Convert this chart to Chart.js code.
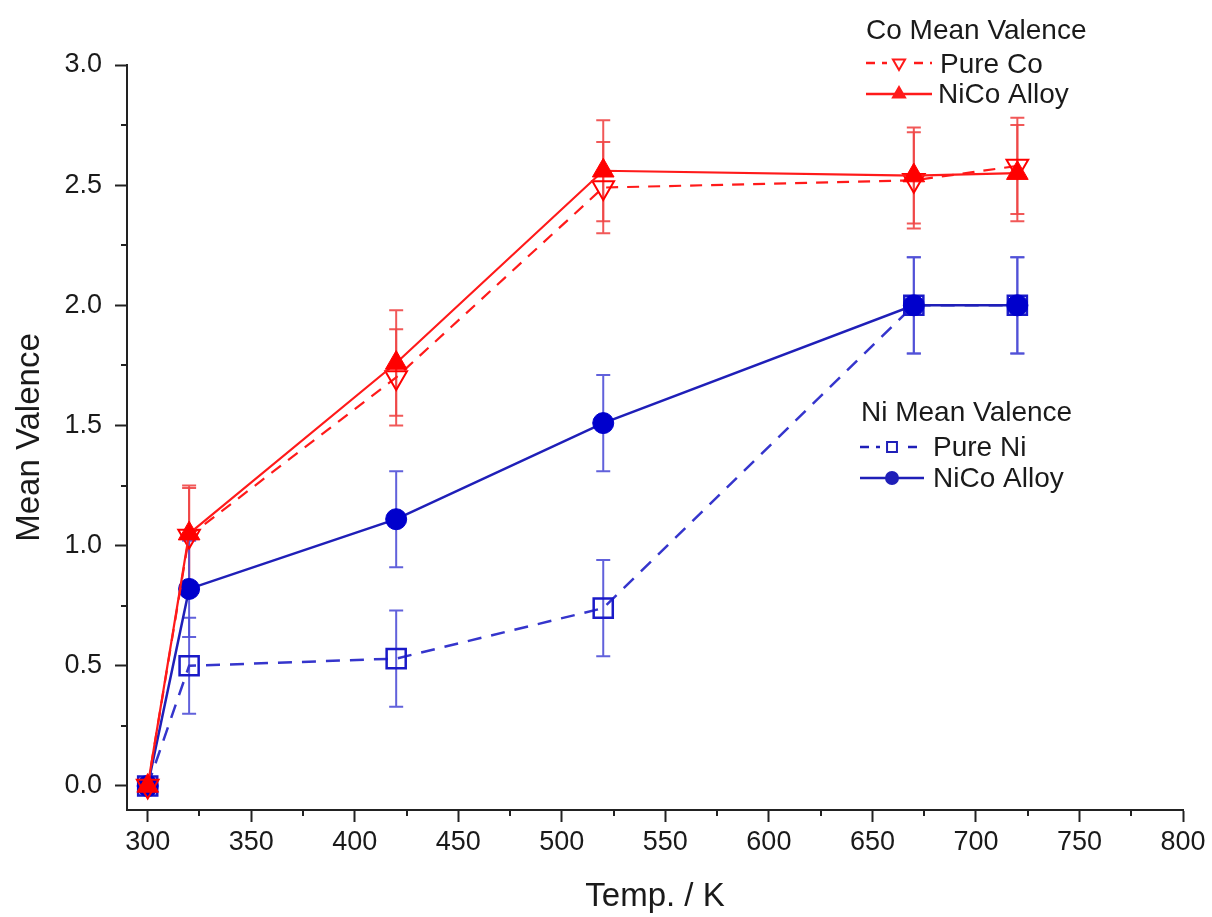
<!DOCTYPE html>
<html>
<head>
<meta charset="utf-8">
<script src="https://cdn.jsdelivr.net/npm/chart.js@4.4.0/dist/chart.umd.min.js"></script>
<style>
html, body { margin: 0; padding: 0; background: #fff; }
</style>
</head>
<body>
<canvas id="myChart" width="1212" height="917"></canvas>
<script>

// temperatures (K)
var temps = [300, 320, 420, 520, 670, 720];

// Co mean valence
var coPure  = [0, 1.04, 1.70, 2.49, 2.52, 2.58];
var coAlloy = [0, 1.05, 1.76, 2.56, 2.54, 2.55];
var coPureErr  = [0, 0.2, 0.2, 0.19, 0.2, 0.2];
var coAlloyErr = [0, 0.2, 0.22, 0.21, 0.2, 0.2];

// Ni mean valence
var niPure  = [0, 0.50, 0.53, 0.74, 2.00, 2.00];
var niAlloy = [0, 0.82, 1.11, 1.51, 2.00, 2.00];
var niPureErr  = [0, 0.2, 0.2, 0.2, 0.2, 0.2];
var niAlloyErr = [0, 0.2, 0.2, 0.2, 0.2, 0.2];

var xTicks = [300, 350, 400, 450, 500, 550, 600, 650, 700, 750, 800];
var yTicks = [0, 0.5, 1.0, 1.5, 2.0, 2.5, 3.0];

var RED = '#ff1a1a';
var BLUE = '#1f1fb8';
var FONT = 'Liberation Sans, Arial, sans-serif';

function pts(vals) {
  return temps.map(function (t, i) { return { x: t, y: vals[i] }; });
}

// error bars, drawn under the lines
var errorBars = {
  id: 'errorBars',
  beforeDatasetsDraw: function (chart) {
    var ctx = chart.ctx;
    var xs = chart.scales.x, ys = chart.scales.y;
    chart.data.datasets.forEach(function (ds) {
      if (!ds.errors) return;
      ctx.save();
      ctx.strokeStyle = ds.errColor;
      ctx.lineWidth = 2;
      ds.data.forEach(function (p, i) {
        var e = ds.errors[i];
        if (!e) return;
        var px = xs.getPixelForValue(p.x);
        var top = ys.getPixelForValue(p.y + e);
        var bot = ys.getPixelForValue(p.y - e);
        ctx.beginPath();
        ctx.moveTo(px, top); ctx.lineTo(px, bot);
        ctx.moveTo(px - 7, top); ctx.lineTo(px + 7, top);
        ctx.moveTo(px - 7, bot); ctx.lineTo(px + 7, bot);
        ctx.stroke();
      });
      ctx.restore();
    });
  }
};

// minor ticks halfway between the major ones
var minorTicks = {
  id: 'minorTicks',
  afterDraw: function (chart) {
    var ctx = chart.ctx;
    var xs = chart.scales.x, ys = chart.scales.y;
    var a = chart.chartArea;
    ctx.save();
    ctx.strokeStyle = '#222';
    ctx.lineWidth = 2;
    ctx.beginPath();
    for (var i = 0; i < xTicks.length - 1; i++) {
      var px = Math.round(xs.getPixelForValue((xTicks[i] + xTicks[i + 1]) / 2));
      ctx.moveTo(px, a.bottom); ctx.lineTo(px, a.bottom + 6);
    }
    for (var j = 0; j < yTicks.length - 1; j++) {
      var py = Math.round(ys.getPixelForValue((yTicks[j] + yTicks[j + 1]) / 2));
      ctx.moveTo(a.left, py); ctx.lineTo(a.left - 6, py);
    }
    ctx.stroke();
    ctx.restore();
  }
};

function legendRow(ctx, x0, x1, y, color, dash, style, rot, filled, r) {
  ctx.save();
  ctx.strokeStyle = color;
  ctx.lineWidth = 2.5;
  ctx.setLineDash(dash);
  ctx.beginPath();
  ctx.moveTo(x0, y); ctx.lineTo(x1, y);
  ctx.stroke();
  ctx.setLineDash([]);
  var mx = (x0 + x1) / 2;
  if (dash.length) {
    ctx.fillStyle = '#fff';
    ctx.fillRect(mx - r - 5, y - r - 2, 2 * r + 10, 2 * r + 4);
  }
  ctx.fillStyle = filled ? color : 'rgba(0,0,0,0)';
  ctx.lineWidth = 2;
  Chart.helpers.drawPoint(ctx, { pointStyle: style, radius: r, rotation: rot, borderWidth: 2 }, mx, y);
  ctx.restore();
}

var legendBoxes = {
  id: 'legendBoxes',
  afterDraw: function (chart) {
    var ctx = chart.ctx;
    ctx.save();
    ctx.fillStyle = '#1a1a1a';
    ctx.font = '28px ' + FONT;
    ctx.textBaseline = 'alphabetic';
    ctx.fillText('Co Mean Valence', 866, 39);
    ctx.fillText('Pure Co', 940, 73);
    ctx.fillText('NiCo Alloy', 938, 103);
    ctx.fillText('Ni Mean Valence', 861, 421);
    ctx.fillText('Pure Ni', 933, 456);
    ctx.fillText('NiCo Alloy', 933, 487);
    ctx.restore();
    legendRow(ctx, 866, 932, 63, RED, [9, 7], 'triangle', 180, false, 7);
    legendRow(ctx, 866, 932, 94, RED, [], 'triangle', 0, true, 7);
    legendRow(ctx, 860, 924, 447, BLUE, [9, 7], 'rect', 0, false, 7);
    legendRow(ctx, 860, 924, 478, BLUE, [], 'circle', 0, true, 6);
  }
};

var ctx = document.getElementById('myChart');
var myChart = new Chart(ctx, {
  type: 'line',
  data: {
    datasets: [
      {
        label: 'Co NiCo Alloy',
        data: pts(coAlloy),
        errors: coAlloyErr,
        errColor: 'rgba(240,70,70,0.9)',
        borderColor: RED,
        borderWidth: 2.2,
        pointStyle: 'triangle',
        pointRadius: 12.5,
        pointBackgroundColor: '#ff0000',
        pointBorderColor: '#ff0000',
        pointBorderWidth: 1
      },
      {
        label: 'Pure Co',
        data: pts(coPure),
        errors: coPureErr,
        errColor: 'rgba(240,70,70,0.9)',
        borderColor: RED,
        borderWidth: 2.2,
        borderDash: [12, 9],
        pointStyle: 'triangle',
        pointRotation: 180,
        pointRadius: 12.5,
        pointBackgroundColor: 'rgba(0,0,0,0)',
        pointBorderColor: '#ff0000',
        pointBorderWidth: 2
      },
      {
        label: 'Ni NiCo Alloy',
        data: pts(niAlloy),
        errors: niAlloyErr,
        errColor: 'rgba(80,80,215,0.9)',
        borderColor: BLUE,
        borderWidth: 2.5,
        pointStyle: 'circle',
        pointRadius: 10.5,
        pointBackgroundColor: '#0000cc',
        pointBorderColor: '#0000cc',
        pointBorderWidth: 1
      },
      {
        label: 'Pure Ni',
        data: pts(niPure),
        errors: niPureErr,
        errColor: 'rgba(80,80,215,0.9)',
        borderColor: '#3535cc',
        borderWidth: 2.5,
        borderDash: [14, 10],
        pointStyle: 'rect',
        pointRadius: 13.5,
        pointBackgroundColor: 'rgba(0,0,0,0)',
        pointBorderColor: '#1a1ac8',
        pointBorderWidth: 2.5
      }
    ]
  },
  options: {
    responsive: false,
    animation: false,
    events: [],
    layout: { padding: { top: 65, right: 29, left: 0, bottom: 0 } },
    plugins: {
      legend: { display: false },
      tooltip: { enabled: false }
    },
    scales: {
      x: {
        type: 'linear',
        min: 290,
        max: 800,
        afterFit: function (scale) { scale.height = 107; },
        afterBuildTicks: function (scale) {
          scale.ticks = xTicks.map(function (v) { return { value: v }; });
        },
        border: { display: true, color: '#222', width: 2 },
        grid: { drawOnChartArea: false, drawTicks: true, tickLength: 12, tickWidth: 2, tickColor: '#222' },
        ticks: {
          color: '#1a1a1a',
          font: { family: FONT, size: 27 },
          padding: 4,
          maxRotation: 0,
          callback: function (v) { return v; }
        },
        title: {
          display: true,
          text: 'Temp. / K',
          color: '#1a1a1a',
          font: { family: FONT, size: 33 },
          padding: { top: 0, bottom: 0 }
        }
      },
      y: {
        min: -0.1,
        max: 3.0,
        afterFit: function (scale) { scale.width = 127; },
        afterBuildTicks: function (scale) {
          scale.ticks = yTicks.map(function (v) { return { value: v }; });
        },
        border: { display: true, color: '#222', width: 2 },
        grid: { drawOnChartArea: false, drawTicks: true, tickLength: 12, tickWidth: 2, tickColor: '#222' },
        ticks: {
          color: '#1a1a1a',
          font: { family: FONT, size: 27 },
          padding: 13,
          callback: function (v) { return v.toFixed(1); }
        },
        title: {
          display: true,
          text: 'Mean Valence',
          color: '#1a1a1a',
          font: { family: FONT, size: 33 },
          padding: { top: 10, bottom: 0 }
        }
      }
    }
  },
  plugins: [errorBars, minorTicks, legendBoxes]
});

</script>
</body>
</html>
